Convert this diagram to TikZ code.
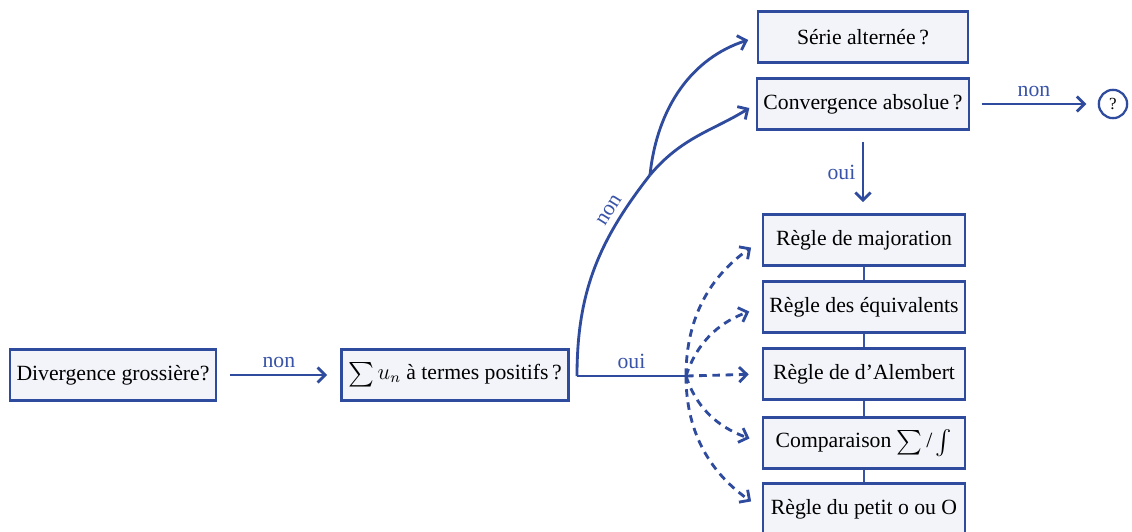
\documentclass[tikz,border=0pt]{standalone}
\usepackage{fontspec}
\setmainfont{Liberation Serif}
\usetikzlibrary{arrows.meta}
\definecolor{bl}{HTML}{2E4B9E}
\definecolor{lb}{HTML}{3853A8}
\definecolor{bf}{HTML}{F3F4F9}
\tikzset{
  txt/.style={font=\fontsize{11.5}{13}\selectfont},
  box/.style={draw=bl,fill=bf,line width=1.2pt,minimum height=27pt,inner xsep=3.5pt,txt},
  rbox/.style={box,minimum width=107pt},
  lab/.style={text=lb,txt},
  line/.style={draw=bl,line width=1.5pt},
  arr/.style={line,-{Straight Barb[length=4pt,width=8pt,line width=1.5pt]}},
  darr/.style={arr,dash pattern=on 4pt off 3pt,shorten >=7pt},
  conn/.style={draw=lb,line width=0.9pt}
}
\begin{document}
\begin{tikzpicture}[x=0.53pt,y=-0.53pt]
\useasboundingbox (0,0) rectangle (1132,531);
\node[box] (div) at (113,375) {Divergence grossière?};
\node[box] (sum) at (455,375) {\raisebox{-1.5pt}{\scalebox{1.3}{$\sum$}}\,$u_n$ à termes positifs\,?};
\node[box,minimum width=111pt] (ser) at (863,37) {Série alternée\,?};
\node[box] (conv) at (863,104) {Convergence absolue\,?};
\node[circle,draw=bl,line width=1.2pt,minimum size=15pt,inner sep=0pt,font=\small] (q) at (1113,104) {?};
\node[rbox] (maj) at (864,240) {Règle de majoration};
\node[rbox] (equ) at (864,307) {Règle des équivalents};
\node[rbox] (ale) at (864,374) {Règle de d’Alembert};
\node[rbox] (com) at (864,443) {Comparaison \raisebox{-1.5pt}{\scalebox{1.3}{$\sum$}}\,/\,\raisebox{-1.5pt}{\scalebox{1.3}{$\int$}}};
\node[rbox] (pet) at (864,509) {Règle du petit o ou O};
\coordinate (s) at (577,376);
\coordinate (o) at (686,376);
\coordinate (sp) at (650,175);
\draw[arr,shorten <=7pt,shorten >=7pt] (div) -- node[above,lab]{non} (sum);
\draw[line] (s) -- node[above,lab,pos=0.5]{oui} (o) -- ++(4,0);
\draw[line] (s) to[out=90,in=232] node[sloped,above,lab,pos=0.78]{non} (sp);
\draw[arr,shorten >=5pt] (sp) to[out=84,in=198] (ser.west);
\draw[arr,shorten >=4pt] (sp) to[out=50,in=212] (conv.west);
\draw[arr,shorten <=6pt,shorten >=6pt] (conv) -- node[above,lab]{non} (q);
\draw[arr,shorten <=6pt,shorten >=6pt] (conv.south) -- node[left,lab]{oui} (conv.south |- maj.north);
\draw[darr] (o) to[out=90,in=215] (maj.west);
\draw[darr] (o) to[out=72,in=200] (equ.west);
\draw[darr] (o) -- (ale.west);
\draw[darr] (o) to[out=-72,in=160] (com.west);
\draw[darr] (o) to[out=-90,in=145] (pet.west);
\draw[conn] (maj.south) -- (equ.north);
\draw[conn] (equ.south) -- (ale.north);
\draw[conn] (ale.south) -- (com.north);
\draw[conn] (com.south) -- (pet.north);
\end{tikzpicture}
\end{document}
